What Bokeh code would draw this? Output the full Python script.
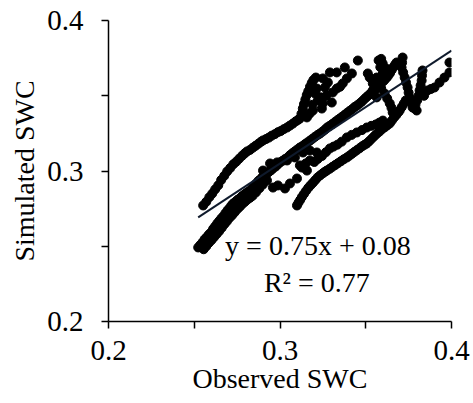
from bokeh.plotting import figure
from bokeh.models import Range1d, FixedTicker, Label, CustomJSTickFormatter
from bokeh.embed import file_html
from bokeh.resources import INLINE

# ---- data (observed, simulated SWC) ----
obs_a = [0.2552,0.2570,0.2588,0.2605,0.2622,0.2640,0.2657,0.2675,0.2692,0.2710,0.2728,0.2745,0.2762,0.2780,0.2795,0.2808,
         0.2825,0.2842,0.2858,0.2875,0.2890,0.2901,0.2918,0.2935,0.2952,0.2970,0.2988,0.3005,0.3022,0.3041,0.3058,0.3075,
         0.3092,0.3106,0.3116,0.3125,0.3133,0.3140,0.3148,0.3156,0.3165,0.3175,0.3185,0.3195,0.3209]
sim_a = [0.2771,0.2795,0.2826,0.2850,0.2878,0.2905,0.2940,0.2968,0.2997,0.3020,0.3045,0.3062,0.3082,0.3102,0.3118,0.3130,
         0.3140,0.3155,0.3168,0.3182,0.3195,0.3203,0.3212,0.3222,0.3235,0.3245,0.3258,0.3266,0.3278,0.3289,0.3302,0.3315,
         0.3330,0.3340,0.3349,0.3380,0.3415,0.3445,0.3475,0.3505,0.3530,0.3560,0.3585,0.3605,0.3621]

obs_top = [0.3454,0.3378,0.3331,0.3291,0.3250,0.3279,0.3419,0.3390,0.3366,0.3331,0.3308,0.3262,0.3215,0.3204,0.3221,0.3250,
           0.3302,0.3244,0.3192,0.3174,0.3157,0.3512,0.3523,0.3541,0.3552,0.3564,0.3236,0.3270,0.3350,0.3190]
sim_top = [0.3734,0.3688,0.3655,0.3655,0.3615,0.3588,0.3648,0.3615,0.3582,0.3548,0.3522,0.3555,0.3548,0.3515,0.3469,0.3449,
           0.3455,0.3415,0.3402,0.3382,0.3356,0.3648,0.3621,0.3582,0.3535,0.3489,0.3490,0.3500,0.3560,0.3440]

obs_b = [0.2523,0.2535,0.2548,0.2560,0.2572,0.2585,0.2598,0.2610,0.2622,0.2634,0.2646,0.2658,0.2670,0.2682,0.2694,0.2705,
         0.2716,0.2727,0.2740,0.2752,0.2765,0.2778,0.2790,0.2802,0.2814,0.2826,0.2838,0.2850,0.2862,0.2875,0.2888,0.2900,
         0.2912,0.2924,0.2936,0.2948,0.2960,0.2975,0.2988,0.3000,0.3015,0.3030,0.3045,0.3058,0.3072,0.3086,0.3100,0.3116,
         0.3130,0.3145,0.3160,0.3175,0.3190,0.3205,0.3220,0.3233,0.3248,0.3262,0.3276,0.3290,0.3305,0.3320,0.3335,0.3349,
         0.3362,0.3376,0.3390,0.3405,0.3420,0.3435,0.3450,0.3465,0.3478,0.3492,0.3505,0.3518,0.3532,0.3545,0.3558,0.3570,
         0.3582,0.3594,0.3606,0.3618,0.3628,0.3640,0.3652,0.3662,0.3672,0.3680]
sim_b = [0.2492,0.2508,0.2525,0.2545,0.2560,0.2578,0.2592,0.2615,0.2632,0.2651,0.2668,0.2685,0.2700,0.2720,0.2738,0.2752,
         0.2770,0.2784,0.2795,0.2808,0.2818,0.2832,0.2842,0.2852,0.2862,0.2870,0.2885,0.2900,0.2918,0.2935,0.2948,0.2962,
         0.2972,0.2983,0.2995,0.3005,0.3018,0.3030,0.3045,0.3057,0.3068,0.3080,0.3090,0.3105,0.3118,0.3130,0.3142,0.3156,
         0.3165,0.3178,0.3190,0.3202,0.3215,0.3228,0.3240,0.3249,0.3262,0.3275,0.3290,0.3300,0.3312,0.3325,0.3338,0.3349,
         0.3360,0.3372,0.3385,0.3398,0.3410,0.3425,0.3436,0.3449,0.3462,0.3478,0.3492,0.3505,0.3520,0.3535,0.3548,0.3560,
         0.3575,0.3588,0.3600,0.3615,0.3628,0.3650,0.3672,0.3692,0.3708,0.3721]

obs_b2 = [0.2555,0.2570,0.2585,0.2600,0.2615,0.2630,0.2645,0.2660,0.2675,0.2690,0.2705,0.2720,0.2735,0.2750,0.2765,0.2780,
          0.2795,0.2810,0.2825,0.2840,0.2860,0.2880,0.2900,0.2924,0.2959,0.2988,0.3029,0.3058,0.3099,0.3128,0.3157,
          0.2901,0.2942,0.2983,0.3041,0.3087,0.3134,0.3174,0.3215]
sim_b2 = [0.2480,0.2500,0.2522,0.2540,0.2560,0.2580,0.2600,0.2622,0.2645,0.2665,0.2688,0.2705,0.2725,0.2745,0.2762,0.2780,
          0.2795,0.2810,0.2822,0.2835,0.2858,0.2885,0.2910,0.2937,0.2890,0.2904,0.2884,0.2917,0.2950,0.3023,0.3003,
          0.3003,0.3050,0.3057,0.3070,0.3090,0.3123,0.3136,0.3123]

obs_d = [0.3116,0.3150,0.3174,0.3200,0.3220,0.3245,0.3268,0.3291,0.3312,0.3335,0.3360,0.3390,0.3418,0.3448,0.3478,0.3506,
         0.3532,0.3558,0.3580,0.3600]
sim_d = [0.3037,0.3050,0.3070,0.3060,0.3080,0.3100,0.3125,0.3150,0.3162,0.3175,0.3195,0.3223,0.3240,0.3256,0.3272,0.3289,
         0.3300,0.3309,0.3322,0.3335]

obs_c = [0.3099,0.3108,0.3118,0.3128,0.3140,0.3152,0.3165,0.3178,0.3192,0.3206,0.3220,0.3235,0.3250,0.3262,0.3273,0.3290,
         0.3306,0.3322,0.3338,0.3355,0.3372,0.3390,0.3405,0.3420,0.3435,0.3450,0.3465,0.3480,0.3494,0.3506,0.3520,0.3535,
         0.3550,0.3565,0.3580,0.3595,0.3610,0.3625,0.3640,0.3652,0.3665,0.3678,0.3690,0.3698,0.3710,0.3722,0.3733]
sim_c = [0.2771,0.2790,0.2808,0.2828,0.2848,0.2868,0.2888,0.2905,0.2922,0.2940,0.2958,0.2972,0.2985,0.2995,0.3003,0.3015,
         0.3028,0.3040,0.3052,0.3065,0.3078,0.3090,0.3102,0.3115,0.3128,0.3140,0.3152,0.3165,0.3175,0.3183,0.3198,0.3215,
         0.3232,0.3248,0.3262,0.3278,0.3290,0.3303,0.3316,0.3335,0.3355,0.3372,0.3390,0.3402,0.3425,0.3448,0.3469]

obs_r = [0.3715,0.3712,0.3709,0.3718,0.3727,0.3735,0.3744,0.3750,0.3756,0.3765,0.3773,0.3797,0.3785,
         0.3831,0.3828,0.3826,0.3820,0.3814,0.3808,0.3800,0.3790,
         0.3599,0.3620,0.3640,0.3564,0.3581,0.3541,0.3610,0.3625,0.3640,0.3657,0.3650,0.3590,0.3600,0.3585,0.3575,0.3590,
         0.3840,0.3860,0.3880,0.3901,0.3930,0.3959,0.3988,0.3988]
sim_r = [0.3754,0.3720,0.3688,0.3655,0.3621,0.3588,0.3555,0.3520,0.3488,0.3455,0.3422,0.3402,0.3415,
         0.3668,0.3635,0.3601,0.3568,0.3535,0.3500,0.3470,0.3440,
         0.3714,0.3680,0.3648,0.3621,0.3582,0.3535,0.3515,0.3482,0.3449,0.3389,0.3420,0.3550,0.3650,0.3690,0.3735,0.3745,
         0.3500,0.3535,0.3545,0.3555,0.3588,0.3621,0.3655,0.3721]

observed = obs_a + obs_top + obs_b + obs_b2 + obs_d + obs_c + obs_r
simulated = sim_a + sim_top + sim_b + sim_b2 + sim_d + sim_c + sim_r

slope, intercept = 0.75, 0.08
eq_text = "y = 0.75x + 0.08"
r2_text = "R\u00b2 = 0.77"
x_title = "Observed SWC"
y_title = "Simulated SWC"
tick_values = [0.2, 0.3, 0.4]
minor_values = [0.25, 0.35]

FONT = "Liberation Serif"

p = figure(width=473, height=403, output_backend="svg", toolbar_location=None,
           x_range=Range1d(0.2, 0.4), y_range=Range1d(0.2, 0.4),
           min_border_left=108, min_border_right=22, min_border_top=20, min_border_bottom=82)
p.background_fill_color = "white"
p.border_fill_color = "white"
p.outline_line_color = None
p.grid.visible = False

p.scatter(observed, simulated, size=9, color="black", line_color="black")

x0 = min(observed)
p.line([x0, 0.4], [slope * x0 + intercept, slope * 0.4 + intercept], line_color="#0f1a2c", line_width=2)

for ax in (p.xaxis[0], p.yaxis[0]):
    ax.ticker = FixedTicker(ticks=tick_values, minor_ticks=minor_values)
    ax.formatter = CustomJSTickFormatter(code="return tick.toFixed(1);")
    ax.axis_line_color = "black"
    ax.axis_line_width = 1.5
    ax.major_tick_line_color = "black"
    ax.minor_tick_line_color = "black"
    ax.major_tick_line_width = 1.5
    ax.minor_tick_line_width = 1.5
    ax.major_tick_in = 0
    ax.major_tick_out = 7
    ax.minor_tick_in = 0
    ax.minor_tick_out = 7
    ax.major_label_text_font = FONT
    ax.major_label_text_font_size = "29px"
    ax.major_label_text_color = "black"
    ax.axis_label_text_font = FONT
    ax.axis_label_text_font_size = "28px"
    ax.axis_label_text_font_style = "normal"
    ax.axis_label_text_color = "black"

p.xaxis.axis_label = x_title
p.yaxis.axis_label = y_title
p.xaxis.major_label_standoff = 12
p.xaxis.axis_label_standoff = 0
p.yaxis.major_label_standoff = 18
p.yaxis.axis_label_standoff = 4

p.add_layout(Label(x=0.3221, y=0.2505, text=eq_text, text_font=FONT, text_font_size="28px",
                   text_align="center", text_baseline="middle", text_color="black"))
p.add_layout(Label(x=0.3215, y=0.2259, text=r2_text, text_font=FONT, text_font_size="28px",
                   text_align="center", text_baseline="middle", text_color="black"))

open("out.html", "w").write(file_html(p, INLINE))
